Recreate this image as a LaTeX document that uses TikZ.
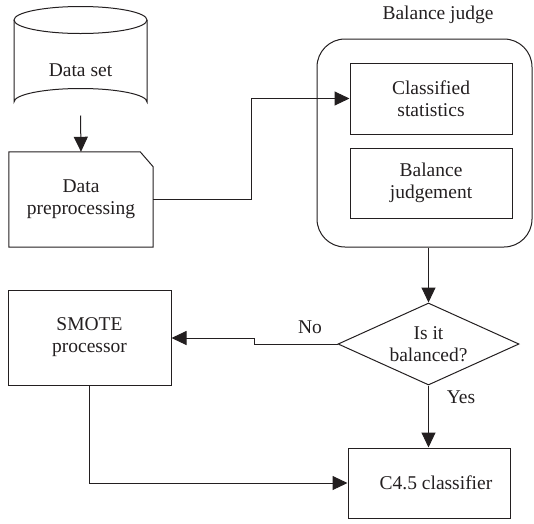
\documentclass[tikz,border=0pt]{standalone}
\usepackage{fontspec}
\setmainfont{Liberation Serif}
\usetikzlibrary{arrows.meta,shapes.geometric,positioning}
\definecolor{ink}{HTML}{231F20}
\tikzset{
  line/.style={draw=ink, line width=1pt},
  arr/.style={line, -{Triangle[length=15pt,width=14pt]}},
  txt/.style={text=ink, font=\fontsize{19.5}{22}\selectfont, align=center},
  boxnode/.style={line, txt, rectangle, inner sep=0pt},
}
\begin{document}
\begin{tikzpicture}[x=1pt,y=-1pt]
  \useasboundingbox (0,0) rectangle (534,523);

  % data set cylinder
  \draw[line] (14,20) -- (14,102) arc[start angle=180,end angle=360,x radius=66.5,y radius=13.5]
              -- (147,20);
  \draw[line] (80.5,20) ellipse[x radius=66.5,y radius=13.5];
  \node[txt] (ds) at (80.5,70) {Data set};
  \coordinate (dsb) at (80.5,115.5);

  % data preprocessing (document with a clipped corner)
  \node[txt, minimum width=144pt, minimum height=95pt, inner sep=0pt] (pre) at (81,199.5) {Data\\preprocessing};
  \draw[line] (pre.south west) -- (pre.north west) -- ([xshift=-13pt]pre.north east)
              -- ([yshift=-15pt]pre.north east) -- (pre.south east) -- cycle;

  % balance judge group
  \node[line, rounded corners=28pt, minimum width=215pt, minimum height=208pt] (bj) at (424.5,143) {};
  \node[txt] (bjl) at (438,15) {Balance judge};
  \node[boxnode, minimum width=162pt, minimum height=71pt] (cs) at (431,98.5) {Classified\\statistics};
  \node[boxnode, minimum width=162pt, minimum height=70pt] (bal) at (431,183) {Balance\\judgement};

  % decision
  \node[line, diamond, minimum width=181pt, minimum height=82pt, inner sep=0pt] (dec) at (428.5,344) {};
  \node[txt] (dect) at (dec.center) {Is it\\balanced?};

  % smote and classifier
  \node[boxnode, minimum width=163pt, minimum height=95pt] (smote) at (89.5,337.5) {SMOTE\\processor};
  \node[boxnode, minimum width=162pt, minimum height=70pt] (c45) at (429,483) {\hspace{14pt}C4.5 classifier};

  % connectors
  \draw[arr] (dsb) -- (pre.north);
  \draw[arr] (pre.east) -- (251,199.5) |- (cs.west);
  \draw[arr] (bj.south -| dec.north) -- (dec.north);
  \draw[arr] (dec.west) -- (254,344) -- (254,338) -- (smote.east |- 0,338);
  \node[txt] (no) at (310,327) {No};
  \draw[arr] (dec.south) -- (c45.north -| dec.south);
  \node[txt] (yes) at (461,397) {Yes};
  \draw[arr] (smote.south) |- (c45.west);
\end{tikzpicture}
\end{document}
